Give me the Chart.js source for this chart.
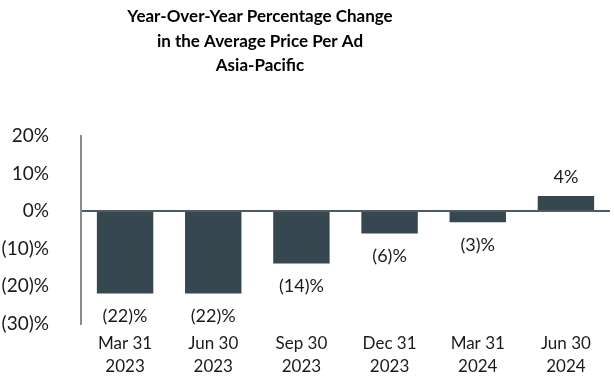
<!DOCTYPE html>
<html>
<head>
  <title>Average Price Per Ad - Asia-Pacific</title>
  <script src="https://cdn.jsdelivr.net/npm/chart.js"></script>
  <style>
    html, body { margin: 0; padding: 0; background: #fff; }
    #wrap { width: 614px; height: 384px; }
  </style>
</head>
<body>
  <div id="wrap"><canvas id="barChart" width="614" height="384"></canvas></div>

  <script>
    // dados
    const trimestres = [['Mar 31', '2023'], ['Jun 30', '2023'], ['Sep 30', '2023'], ['Dec 31', '2023'], ['Mar 31', '2024'], ['Jun 30', '2024']];
    const variacao = [-22, -22, -14, -6, -3, 4];
    const ticksY = [20, 10, 0, -10, -20, -30];
    const titulo = ['Year-Over-Year Percentage Change', 'in the Average Price Per Ad', 'Asia-Pacific'];

    const corBarra = '#37474f';
    const fonte = 'Lato';

    // formata negativos com parênteses: -22 -> (22)%
    function formatarPct(v) {
      return v < 0 ? '(' + Math.abs(v) + ')%' : v + '%';
    }

    // título desenhado à mão (no original ele não fica centrado no canvas)
    const tituloPlugin = {
      id: 'tituloManual',
      afterDraw(chart) {
        const ctx = chart.ctx;
        ctx.save();
        ctx.font = 'bold 17px ' + fonte;
        ctx.fillStyle = '#000';
        ctx.textAlign = 'center';
        ctx.textBaseline = 'middle';
        titulo.forEach((linha, i) => ctx.fillText(linha, 260, 17 + i * 24.5));
        ctx.restore();
      }
    };

    // rótulos de valor em cima / embaixo das barras
    const rotulosPlugin = {
      id: 'rotulos',
      afterDatasetsDraw(chart) {
        const ctx = chart.ctx;
        const meta = chart.getDatasetMeta(0);
        ctx.save();
        ctx.font = '18px ' + fonte;
        ctx.fillStyle = '#1a1a1a';
        ctx.textAlign = 'center';
        ctx.textBaseline = 'middle';
        meta.data.forEach((bar, i) => {
          const v = variacao[i];
          const y = v < 0 ? bar.y + 23 : bar.y - 19;
          ctx.fillText(formatarPct(v), bar.x, y);
        });
        ctx.restore();
      }
    };

    const ctx = document.getElementById('barChart').getContext('2d');
    const grafico = new Chart(ctx, {
      type: 'bar',
      data: {
        labels: trimestres,
        datasets: [{
          data: variacao,
          backgroundColor: corBarra,
          borderWidth: 0,
          barPercentage: 0.64,
          categoryPercentage: 1.0,
        }],
      },
      options: {
        responsive: false,
        animation: false,
        layout: { padding: { left: 0, right: 4, top: 136, bottom: 0 } },
        plugins: {
          legend: { display: false },
          tooltip: { enabled: false },
          title: { display: false },
        },
        scales: {
          x: {
            afterFit(scale) {
              scale.height = 60.5;
            },
            grid: { display: false, drawTicks: false },
            border: { display: false },
            ticks: {
              color: '#1a1a1a',
              font: { family: fonte, size: 17, lineHeight: 1.36 },
              padding: 8,
              maxRotation: 0,
            },
          },
          y: {
            min: -30,
            max: 20,
            afterBuildTicks(scale) {
              scale.ticks = ticksY.map(v => ({ value: v }));
            },
            afterFit(scale) {
              scale.width = 81;
            },
            grid: {
              drawTicks: false,
              lineWidth: 2,
              color: (c) => (c.tick && c.tick.value === 0 ? '#4d5b66' : 'rgba(0,0,0,0)'),
            },
            border: { display: true, color: '#8c8c8c', width: 2 },
            ticks: {
              color: '#1a1a1a',
              font: { family: fonte, size: 19 },
              padding: 32,
              callback: (v) => formatarPct(v),
            },
          },
        },
      },
      plugins: [rotulosPlugin, tituloPlugin],
    });
  </script>
</body>
</html>
